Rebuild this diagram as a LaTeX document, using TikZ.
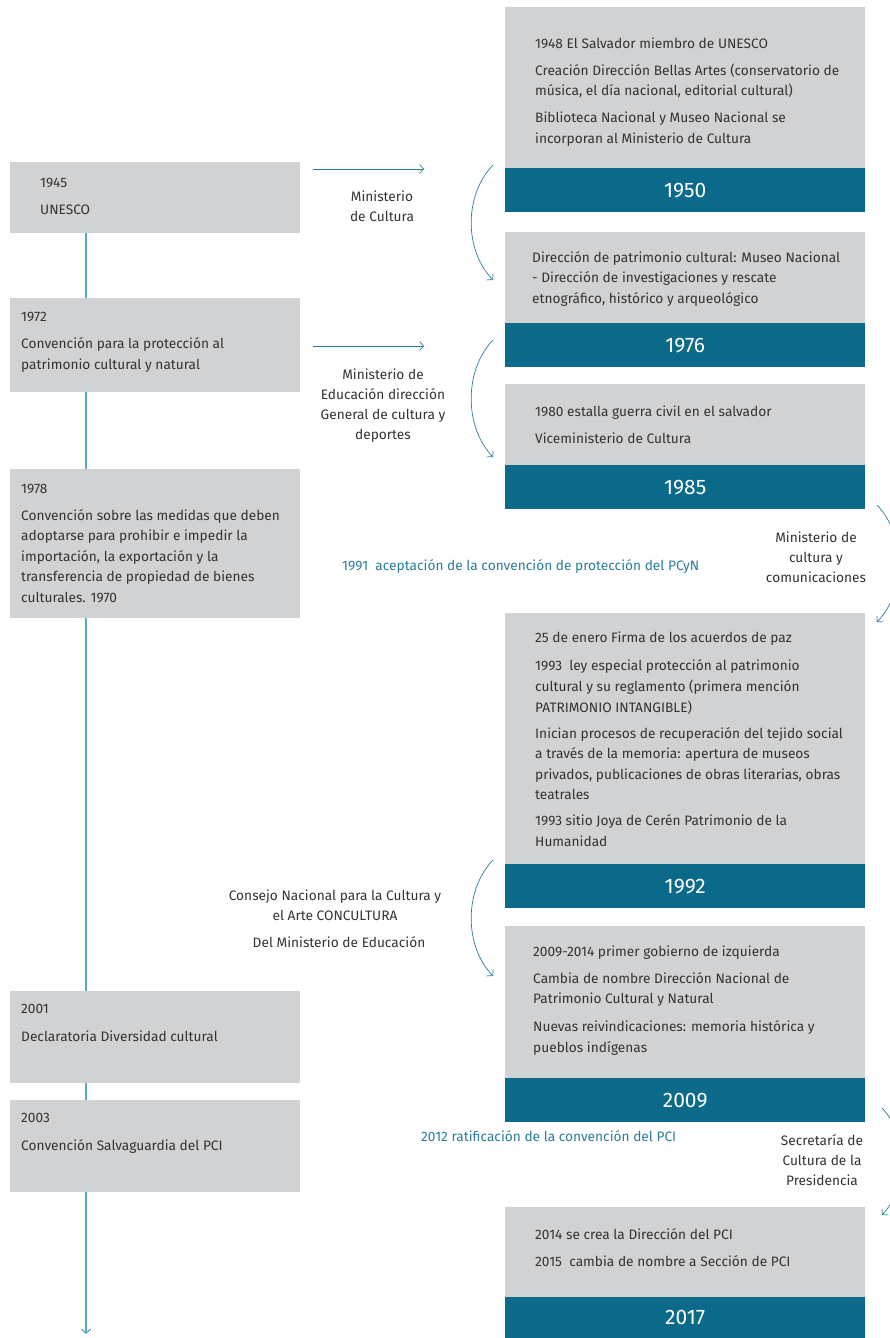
\documentclass[tikz,border=0pt]{standalone}
\usepackage{fontspec}
\setmainfont{Fira Sans}
\usetikzlibrary{arrows.meta,positioning}
\definecolor{boxgray}{HTML}{D1D2D4}
\definecolor{bandblue}{HTML}{0B6A8A}
\definecolor{linkblue}{HTML}{2A7C9A}
\definecolor{lineblue}{HTML}{5AA8C8}
\definecolor{txtgray}{HTML}{333333}

\tikzset{
  graybox/.style={fill=boxgray, draw=none, anchor=north west, inner sep=0, minimum width=360pt},
  leftbox/.style={fill=boxgray, draw=none, anchor=north west, inner sep=0, minimum width=290pt},
  band/.style={fill=bandblue, anchor=north west, inner sep=0, minimum width=360pt, minimum height=44pt,
               text=white, font=\fontsize{21}{24}\selectfont},
  % anchor at the baseline of the last line
  txt/.style={anchor=base west, align=left, inner sep=0, text=txtgray, font=\fontsize{13.7}{20.6}\selectfont},
  note/.style={align=center, inner sep=0, text=txtgray, font=\fontsize{13.7}{20}\selectfont},
  bluenote/.style={anchor=west, inner sep=0, text=linkblue, font=\fontsize{13.7}{20}\selectfont},
  link/.style={draw=linkblue, line width=0.7pt, -{Straight Barb[length=4pt,width=9pt]}},
}

\begin{document}
\begin{tikzpicture}[x=1pt,y=-1pt]
\useasboundingbox (0,0) rectangle (890,1338);

% time line
\coordinate (ltop) at (86,233);
\coordinate (lend) at (86,1334);
\draw[lineblue, line width=1.2pt, -{Straight Barb[length=4pt,width=9pt]}] (ltop) -- (lend);

% left column
\node[leftbox, minimum height=71pt]  (b1945) at (10,162) {};
\node[leftbox, minimum height=94pt]  (b1972) at (10,298) {};
\node[leftbox, minimum height=149pt] (b1978) at (10,469) {};
\node[leftbox, minimum height=92pt]  (b2001) at (10,991) {};
\node[leftbox, minimum height=92pt]  (b2003) at (10,1100) {};

\node[txt] (t1945) at (40,214.5) {1945\\[6.4pt]UNESCO};
\node[txt] (t1972) at (21,369.5) {1972\\[6.4pt]Convención para la protección al\\patrimonio cultural y natural};
\node[txt] (t1978) at (21,602.5) {1978\\[6.4pt]Convención sobre las medidas que deben\\adoptarse para prohibir e impedir la\\importación, la exportación y la\\transferencia de propiedad de bienes\\culturales. 1970};
\node[txt] (t2001) at (21,1041.5) {2001\\[7.4pt]Declaratoria Diversidad cultural};
\node[txt] (t2003) at (21,1150.5) {2003\\[7.4pt]Convención Salvaguardia del PCI};

% right column
\node[graybox, minimum height=161pt] (g1950) at (505,7) {};
\node[band] (y1950) at (505,168) {1950};
\node[graybox, minimum height=91pt] (g1976) at (505,232) {};
\node[band] (y1976) at (505,323) {1976};
\node[graybox, minimum height=81pt] (g1985) at (505,384) {};
\node[band] (y1985) at (505,465) {1985};
\node[graybox, minimum height=251pt] (g1992) at (505,613) {};
\node[band] (y1992) at (505,864) {1992};
\node[graybox, minimum height=152pt] (g2009) at (505,926) {};
\node[band] (y2009) at (505,1078) {2009};
\node[graybox, minimum height=90pt] (g2017) at (505,1207) {};
\node[band, minimum height=41pt] (y2017) at (505,1297) {2017};

\node[txt] (t1950) at (535,143.5) {1948 El Salvador miembro de UNESCO\\[6.4pt]Creación Dirección Bellas Artes (conservatorio de\\música, el día nacional, editorial cultural)\\[6.4pt]Biblioteca Nacional y Museo Nacional se\\incorporan al Ministerio de Cultura};
\node[txt] (t1976) at (532,303.5) {Dirección de patrimonio cultural: Museo Nacional\\- Dirección de investigaciones y rescate\\etnográfico, histórico y arqueológico};
\node[txt] (t1985) at (535,443.5) {1980 estalla guerra civil en el salvador\\[6.4pt]Viceministerio de Cultura};
\node[txt] (t1992) at (535,846.5) {25 de enero Firma de los acuerdos de paz\\[7.4pt]1993\ \ ley especial protección al patrimonio\\cultural y su reglamento (primera mención\\PATRIMONIO INTANGIBLE)\\[5.4pt]Inician procesos de recuperación del tejido social\\a través de la memoria: apertura de museos\\privados, publicaciones de obras literarias, obras\\teatrales\\[5.4pt]1993 sitio Joya de Cerén Patrimonio de la\\Humanidad};
\node[txt] (t2009) at (533,1052.5) {2009-2014 primer gobierno de izquierda\\[6.4pt]Cambia de nombre Dirección Nacional de\\Patrimonio Cultural y Natural\\[7.4pt]Nuevas reivindicaciones: memoria histórica y\\pueblos indígenas};
\node[txt] (t2017) at (535,1266.5) {2014 se crea la Dirección del PCI\\[6.4pt]2015\ \ cambia de nombre a Sección de PCI};

% side notes
\node[note] (n1950) at (382,206) {Ministerio\\de Cultura};
\node[note] (n1976) at (383,405.5) {Ministerio de\\Educación dirección\\General de cultura y\\deportes};
\node[note] (n1985) at (816,557.5) {Ministerio de\\cultura y\\comunicaciones};
\node[note] (n1992) at (335,905) {Consejo Nacional para la Cultura y\\el Arte CONCULTURA};
\node[note] (n1992b) at (339,942) {Del Ministerio de Educación};
\node[note] (n2009) at (822,1160) {Secretaría de\\Cultura de la\\Presidencia};
\node[bluenote] (c1991) at (342,566) {1991\ \ aceptación de la convención de protección del PCyN};
\node[bluenote] (c2012) at (421,1136) {2012 ratificación de la convención del PCI};

% arrows
\coordinate (s1) at (313,169);  \coordinate (e1) at (424,169);
\coordinate (s2) at (313,346);  \coordinate (e2) at (424,346);
\draw[link] (s1) -- (e1);
\draw[link] (s2) -- (e2);

\coordinate (c1a) at (493,165); \coordinate (c1b) at (493,280);
\coordinate (c2a) at (493,340); \coordinate (c2b) at (493,457);
\coordinate (c3a) at (493,860); \coordinate (c3b) at (493,976);
\draw[link] (c1a) .. controls (464,195) and (464,250) .. (c1b);
\draw[link] (c2a) .. controls (464,370) and (464,427) .. (c2b);
\draw[link] (c3a) .. controls (464,890) and (464,946) .. (c3b);

\coordinate (r1a) at (877,505);  \coordinate (r1b) at (877,622);
\coordinate (r2a) at (882,1108); \coordinate (r2b) at (882,1215);
\draw[link] (r1a) .. controls (906,535) and (906,592) .. (r1b);
\draw[link] (r2a) .. controls (908,1135) and (908,1188) .. (r2b);
\end{tikzpicture}
\end{document}
